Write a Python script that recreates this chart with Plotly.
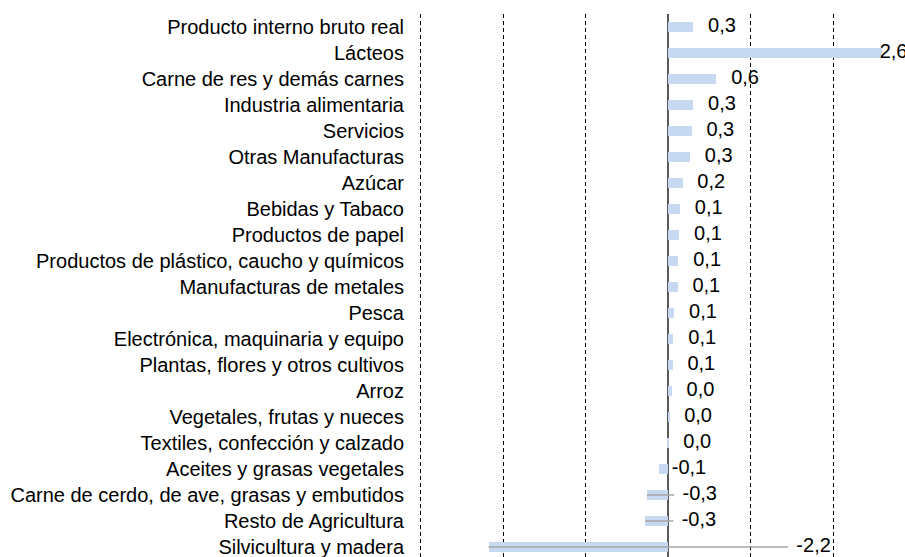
import plotly.graph_objects as go

categories = [
    "Producto interno bruto real",
    "Lácteos",
    "Carne de res y demás carnes",
    "Industria alimentaria",
    "Servicios",
    "Otras Manufacturas",
    "Azúcar",
    "Bebidas y Tabaco",
    "Productos de papel",
    "Productos de plástico, caucho y químicos",
    "Manufacturas de metales",
    "Pesca",
    "Electrónica, maquinaria y equipo",
    "Plantas, flores y otros cultivos",
    "Arroz",
    "Vegetales, frutas y nueces",
    "Textiles, confección y calzado",
    "Aceites y grasas vegetales",
    "Carne de cerdo, de ave, grasas y embutidos",
    "Resto de Agricultura",
    "Silvicultura y madera",
]

values = [0.30, 2.59, 0.58, 0.30, 0.28, 0.26, 0.17, 0.14, 0.13, 0.12,
          0.11, 0.07, 0.06, 0.05, 0.04, 0.01, -0.02, -0.12, -0.26, -0.28, -2.18]

value_labels = ["0,3", "2,6", "0,6", "0,3", "0,3", "0,3", "0,2", "0,1", "0,1", "0,1",
                "0,1", "0,1", "0,1", "0,1", "0,0", "0,0", "0,0", "-0,1", "-0,3", "-0,3", "-2,2"]

x_ticks = [-3, -2, -1, 0, 1, 2]

# label placement (layout, data units): default = just past the bar end;
# labels that were moved by hand in the original get explicit anchors
label_pad = 0.18
moved_labels = {
    "Lácteos": 2.56,
    "Aceites y grasas vegetales": 0.04,
    "Carne de cerdo, de ave, grasas y embutidos": 0.17,
    "Resto de Agricultura": 0.16,
    "Silvicultura y madera": 1.55,
}
leader_rows = ["Carne de cerdo, de ave, grasas y embutidos", "Resto de Agricultura",
               "Silvicultura y madera"]
leader_gap = 0.1

label_x = []
for c, v in zip(categories, values):
    if c in moved_labels:
        label_x.append(moved_labels[c])
    else:
        label_x.append(max(v, 0) + label_pad)

FONT = "Liberation Sans, Arial, sans-serif"

fig = go.Figure()
fig.add_trace(go.Bar(
    y=categories, x=values, orientation="h",
    marker=dict(color="#C6D9F1", line=dict(width=0)),
    width=0.38, hoverinfo="skip", showlegend=False,
))

for c, v, lx in zip(categories, values, label_x):
    if c in leader_rows:
        fig.add_trace(go.Scatter(
            x=[v, lx - leader_gap], y=[c, c], mode="lines",
            line=dict(color="#A6A6A6", width=1.5),
            hoverinfo="skip", showlegend=False, cliponaxis=False,
        ))

fig.add_trace(go.Scatter(
    x=label_x, y=categories, mode="text", text=value_labels,
    textposition="middle right",
    textfont=dict(family=FONT, size=20, color="#000000"),
    hoverinfo="skip", showlegend=False, cliponaxis=False,
))

fig.update_layout(
    width=905, height=557,
    margin=dict(l=418, r=0, t=14, b=0, autoexpand=False),
    paper_bgcolor="white", plot_bgcolor="white",
    font=dict(family=FONT, size=20, color="#000000"),
    bargap=0,
)
fig.update_xaxes(
    range=[-3.036, 2.867], tickvals=x_ticks, showticklabels=False,
    showgrid=True, gridcolor="#000000", gridwidth=1, griddash="4px,3px",
    zeroline=True, zerolinecolor="#595959", zerolinewidth=2,
    showline=False, ticks="", automargin=False,
)
fig.update_yaxes(
    type="category", categoryorder="array", categoryarray=categories,
    range=[20.385, -0.5], showgrid=False, zeroline=False, showline=False,
    ticks="", ticklabelstandoff=13, automargin=False,
    tickfont=dict(family=FONT, size=20, color="#000000"),
)

# remove the default page margin so the 905x557 figure fills the window exactly
fig.write_html(
    "out.html",
    config={"displayModeBar": False},
    post_script="document.body.style.margin='0';"
                "document.body.style.overflow='hidden';",
)
